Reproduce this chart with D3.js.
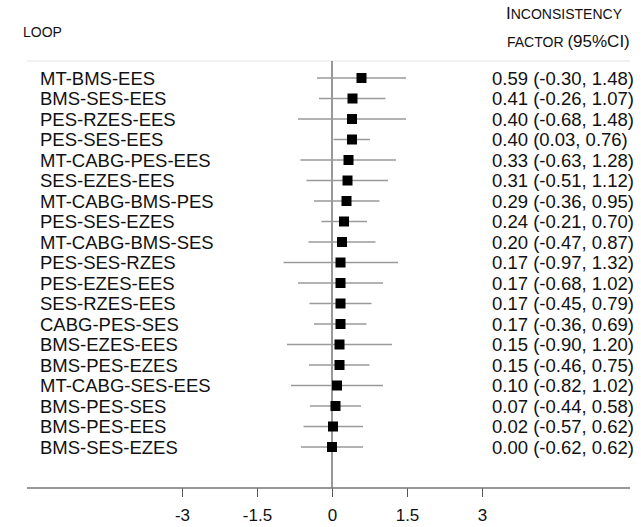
<!DOCTYPE html>
<html lang="en">

<head>
  <meta charset="utf-8">
  <title>Inconsistency factors by loop</title>
  <script src="https://cdn.jsdelivr.net/npm/d3@7"></script>
  <style>
    body {
      margin: 0;
      background: white;
    }

    svg text {
      font-family: "Liberation Sans", Arial, sans-serif;
      fill: #111;
    }

    .tick line {
      stroke: #555;
    }
  </style>
</head>

<body>
  <div id="chart"></div>
</body>

<script>

  var loops = ["MT-BMS-EES", "BMS-SES-EES", "PES-RZES-EES", "PES-SES-EES", "MT-CABG-PES-EES",
    "SES-EZES-EES", "MT-CABG-BMS-PES", "PES-SES-EZES", "MT-CABG-BMS-SES", "PES-SES-RZES",
    "PES-EZES-EES", "SES-RZES-EES", "CABG-PES-SES", "BMS-EZES-EES", "BMS-PES-EZES",
    "MT-CABG-SES-EES", "BMS-PES-SES", "BMS-PES-EES", "BMS-SES-EZES"];
  var estimate = [0.59, 0.41, 0.40, 0.40, 0.33, 0.31, 0.29, 0.24, 0.20, 0.17,
    0.17, 0.17, 0.17, 0.15, 0.15, 0.10, 0.07, 0.02, 0.00];
  var lower = [-0.30, -0.26, -0.68, 0.03, -0.63, -0.51, -0.36, -0.21, -0.47, -0.97,
    -0.68, -0.45, -0.36, -0.90, -0.46, -0.82, -0.44, -0.57, -0.62];
  var upper = [1.48, 1.07, 1.48, 0.76, 1.28, 1.12, 0.95, 0.70, 0.87, 1.32,
    1.02, 0.79, 0.69, 1.20, 0.75, 1.02, 0.58, 0.62, 0.62];
  var tickValues = [-3, -1.5, 0, 1.5, 3];
  var tickLabels = ["-3", "-1.5", "0", "1.5", "3"];

  var width = 641, height = 527;
  var axisY = 488, topY = 61;

  var rows = loops.map(function (d, i) {
    return { loop: d, est: estimate[i], lo: lower[i], hi: upper[i] };
  });

  // plain hyphen for negatives, like the original
  function fmt(v) {
    return (v < 0 ? "-" : "") + Math.abs(v).toFixed(2);
  }
  function ciText(d) {
    return fmt(d.est) + " (" + fmt(d.lo) + ", " + fmt(d.hi) + ")";
  }

  var x = d3.scaleLinear().domain([-3, 3]).range([182, 482]);
  var y = d3.scalePoint().domain(loops).range([78, 447]);

  var svg = d3.select('#chart')
    .append('svg')
    .attr('width', width)
    .attr('height', height);

  // header
  svg.append('text')
    .attr('x', 23).attr('y', 37)
    .style('font-size', '14px')
    .text('LOOP');

  var h1 = svg.append('text').attr('x', 506).attr('y', 19);
  h1.append('tspan').style('font-size', '17px').text('I');
  h1.append('tspan').style('font-size', '14px').text('NCONSISTENCY');

  var h2 = svg.append('text').attr('x', 507).attr('y', 47);
  h2.append('tspan').style('font-size', '14px').text('FACTOR ');
  h2.append('tspan').style('font-size', '17px').text('(95%CI)');

  // separator under header
  svg.append('line')
    .attr('x1', 27).attr('x2', 630)
    .attr('y1', topY).attr('y2', topY)
    .style('stroke', '#ececec')
    .style('stroke-width', 1.5);

  // zero reference line
  svg.append('line')
    .attr('x1', x(0)).attr('x2', x(0))
    .attr('y1', topY).attr('y2', axisY)
    .style('stroke', '#555')
    .style('stroke-width', 1.2);

  // confidence intervals
  svg.selectAll('line.ci')
    .data(rows)
    .enter()
    .append('line')
    .attr('class', 'ci')
    .attr('x1', d => x(d.lo))
    .attr('x2', d => x(d.hi))
    .attr('y1', d => y(d.loop))
    .attr('y2', d => y(d.loop))
    .style('stroke', '#9a9a9a')
    .style('stroke-width', 1.4);

  // point estimates
  var sq = 10;
  svg.selectAll('rect')
    .data(rows)
    .enter()
    .append('rect')
    .attr('x', d => x(d.est) - sq / 2)
    .attr('y', d => y(d.loop) - sq / 2)
    .attr('width', sq)
    .attr('height', sq)
    .style('fill', 'black');

  // loop labels
  svg.selectAll('text.loop')
    .data(rows)
    .enter()
    .append('text')
    .attr('class', 'loop')
    .attr('x', 40)
    .attr('y', d => y(d.loop))
    .attr('dy', '0.36em')
    .style('font-size', '18.5px')
    .text(d => d.loop);

  // estimate text
  svg.selectAll('text.est')
    .data(rows)
    .enter()
    .append('text')
    .attr('class', 'est')
    .attr('x', 492)
    .attr('y', d => y(d.loop))
    .attr('dy', '0.36em')
    .style('font-size', '18.5px')
    .text(ciText);

  // x axis
  var axis = svg.append('g')
    .attr('transform', 'translate(0, ' + axisY + ')')
    .call(d3.axisBottom(x)
      .tickValues(tickValues)
      .tickSize(9)
      .tickFormat((d, i) => tickLabels[i]));
  axis.select('.domain').remove();
  axis.selectAll('.tick text')
    .attr('y', 21)
    .style('font-size', '17px')
    .style('fill', '#111');

  svg.append('line')
    .attr('x1', 27).attr('x2', 630)
    .attr('y1', axisY).attr('y2', axisY)
    .style('stroke', '#777')
    .style('stroke-width', 1.5);

</script>

</html>
